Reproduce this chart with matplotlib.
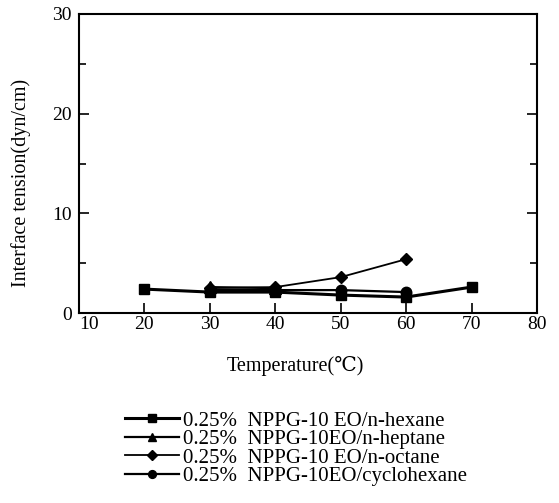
"""Interface tension vs temperature for NPPG-10EO / oil systems."""

import matplotlib

matplotlib.use("Agg")
import matplotlib.pyplot as plt
from matplotlib.ticker import MultipleLocator

plt.rcParams["font.family"] = ["Liberation Serif", "DejaVu Serif"]

# data
temp_hexane = [20, 30, 40, 50, 60, 70]
tension_hexane = [2.4, 2.1, 2.1, 1.8, 1.6, 2.6]

temp_heptane = [30, 40]
tension_heptane = [2.6, 2.5]

temp_octane = [30, 40, 50, 60]
tension_octane = [2.5, 2.6, 3.6, 5.4]

temp_cyclo = [30, 40, 50, 60]
tension_cyclo = [2.3, 2.3, 2.3, 2.1]

labels = [
    "0.25%  NPPG-10 EO/n-hexane",
    "0.25%  NPPG-10EO/n-heptane",
    "0.25%  NPPG-10 EO/n-octane",
    "0.25%  NPPG-10EO/cyclohexane",
]

fig = plt.figure(figsize=(5.59, 5.03), dpi=100)
ax = fig.add_axes([0.1413, 0.3777, 0.8193, 0.5945])

ax.plot(temp_hexane, tension_hexane, "-s", color="black", lw=2.2, ms=7.5, label=labels[0])
ax.plot(temp_heptane, tension_heptane, "-^", color="black", lw=1.6, ms=8.5, label=labels[1])
ax.plot(temp_octane, tension_octane, "-D", color="black", lw=1.3, ms=6.5, label=labels[2])
ax.plot(temp_cyclo, tension_cyclo, "-o", color="black", lw=1.6, ms=7.5, label=labels[3])

ax.set_xlim(10, 80)
ax.set_ylim(0, 30)
ax.set_xticks([10, 20, 30, 40, 50, 60, 70, 80])
ax.set_yticks([0, 10, 20, 30])
ax.yaxis.set_minor_locator(MultipleLocator(5))
ax.tick_params(axis="both", which="both", direction="in", labelsize=14, width=1.2)
ax.tick_params(axis="x", length=7, top=False, pad=2)
ax.tick_params(axis="y", which="major", length=7, right=True, pad=5)
ax.tick_params(axis="y", which="minor", length=5, right=True)
for spine in ax.spines.values():
    spine.set_linewidth(1.5)
# the "10" at the origin sits a little right of its tick, as in the original
ax.get_xticklabels()[0].set_horizontalalignment("left")

ax.set_xlabel("Temperature(\u2103)", fontsize=14.5)
ax.xaxis.set_label_coords(0.472, -0.145)
ax.set_ylabel("Interface tension(dyn/cm)", fontsize=14.5)
ax.yaxis.set_label_coords(-0.105, 0.435)

fig.legend(
    loc="upper left",
    bbox_to_anchor=(0.2236, 0.183),
    frameon=False,
    fontsize=15,
    markerscale=0.75,
    handlelength=2.6,
    handletextpad=0.2,
    labelspacing=-0.05,
    borderpad=0,
    borderaxespad=0,
)

fig.savefig("out.png", dpi=100)
